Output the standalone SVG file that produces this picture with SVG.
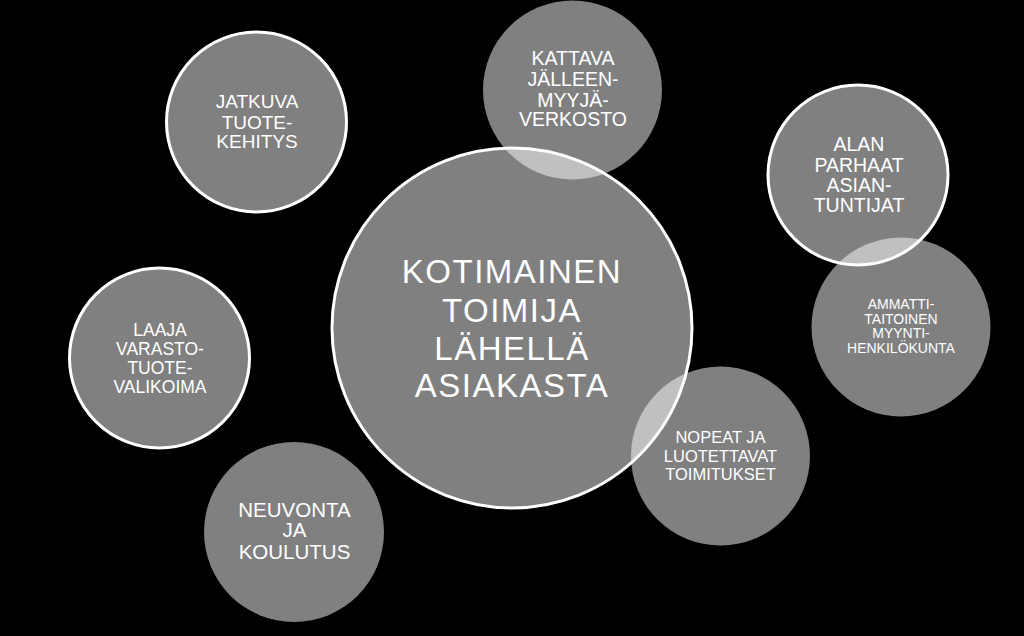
<svg xmlns="http://www.w3.org/2000/svg" width="1024" height="636" viewBox="0 0 1024 636">
<style>
.bg{fill:#000}
.solid{fill:#808080;stroke:#fff;stroke-width:3}
.glass{fill:#fff;fill-opacity:0.5}
text{font-family:"Liberation Sans",Arial,sans-serif;fill:#fff;text-anchor:middle}
</style>
<rect class="bg" x="0" y="0" width="1024" height="636"/>
<g id="center">
<circle class="solid" cx="512" cy="328" r="180"/>
<text font-size="33" letter-spacing="1.5"><tspan x="512" y="283">KOTIMAINEN</tspan><tspan x="512" y="322">TOIMIJA</tspan><tspan x="512" y="360">LÄHELLÄ</tspan><tspan x="512" y="397">ASIAKASTA</tspan></text>
</g>
<g id="jatkuva">
<circle class="solid" cx="256.5" cy="122" r="90"/>
<text font-size="19"><tspan x="257" y="108">JATKUVA</tspan><tspan x="257" y="129">TUOTE-</tspan><tspan x="257" y="148">KEHITYS</tspan></text>
</g>
<g id="alan">
<circle class="solid" cx="858" cy="175" r="90"/>
<text font-size="19.5"><tspan x="859" y="151">ALAN</tspan><tspan x="859" y="172">PARHAAT</tspan><tspan x="859" y="192">ASIAN-</tspan><tspan x="859" y="212">TUNTIJAT</tspan></text>
</g>
<g id="laaja">
<circle class="solid" cx="159.5" cy="358" r="90"/>
<text font-size="17.5"><tspan x="160" y="336">LAAJA</tspan><tspan x="160" y="355">VARASTO-</tspan><tspan x="160" y="374">TUOTE-</tspan><tspan x="160" y="393">VALIKOIMA</tspan></text>
</g>
<g id="kattava">
<circle class="glass" cx="572.5" cy="90" r="89.5"/>
<text font-size="19.5"><tspan x="573" y="65">KATTAVA</tspan><tspan x="573" y="86">JÄLLEEN-</tspan><tspan x="573" y="107">MYYJÄ-</tspan><tspan x="573" y="126">VERKOSTO</tspan></text>
</g>
<g id="ammatti">
<circle class="glass" cx="901" cy="327" r="89.5"/>
<text font-size="14"><tspan x="901" y="309">AMMATTI-</tspan><tspan x="901" y="324">TAITOINEN</tspan><tspan x="901" y="338">MYYNTI-</tspan><tspan x="901" y="353">HENKILÖKUNTA</tspan></text>
</g>
<g id="nopeat">
<circle class="glass" cx="720.5" cy="456" r="89.5"/>
<text font-size="16.5"><tspan x="720.5" y="443">NOPEAT JA</tspan><tspan x="720.5" y="462">LUOTETTAVAT</tspan><tspan x="720.5" y="480">TOIMITUKSET</tspan></text>
</g>
<g id="neuvonta">
<circle class="glass" cx="294" cy="532" r="90"/>
<text font-size="20.5"><tspan x="294.5" y="517">NEUVONTA</tspan><tspan x="294.5" y="537">JA</tspan><tspan x="294.5" y="559">KOULUTUS</tspan></text>
</g>
<g id="connectors"></g>
</svg>
